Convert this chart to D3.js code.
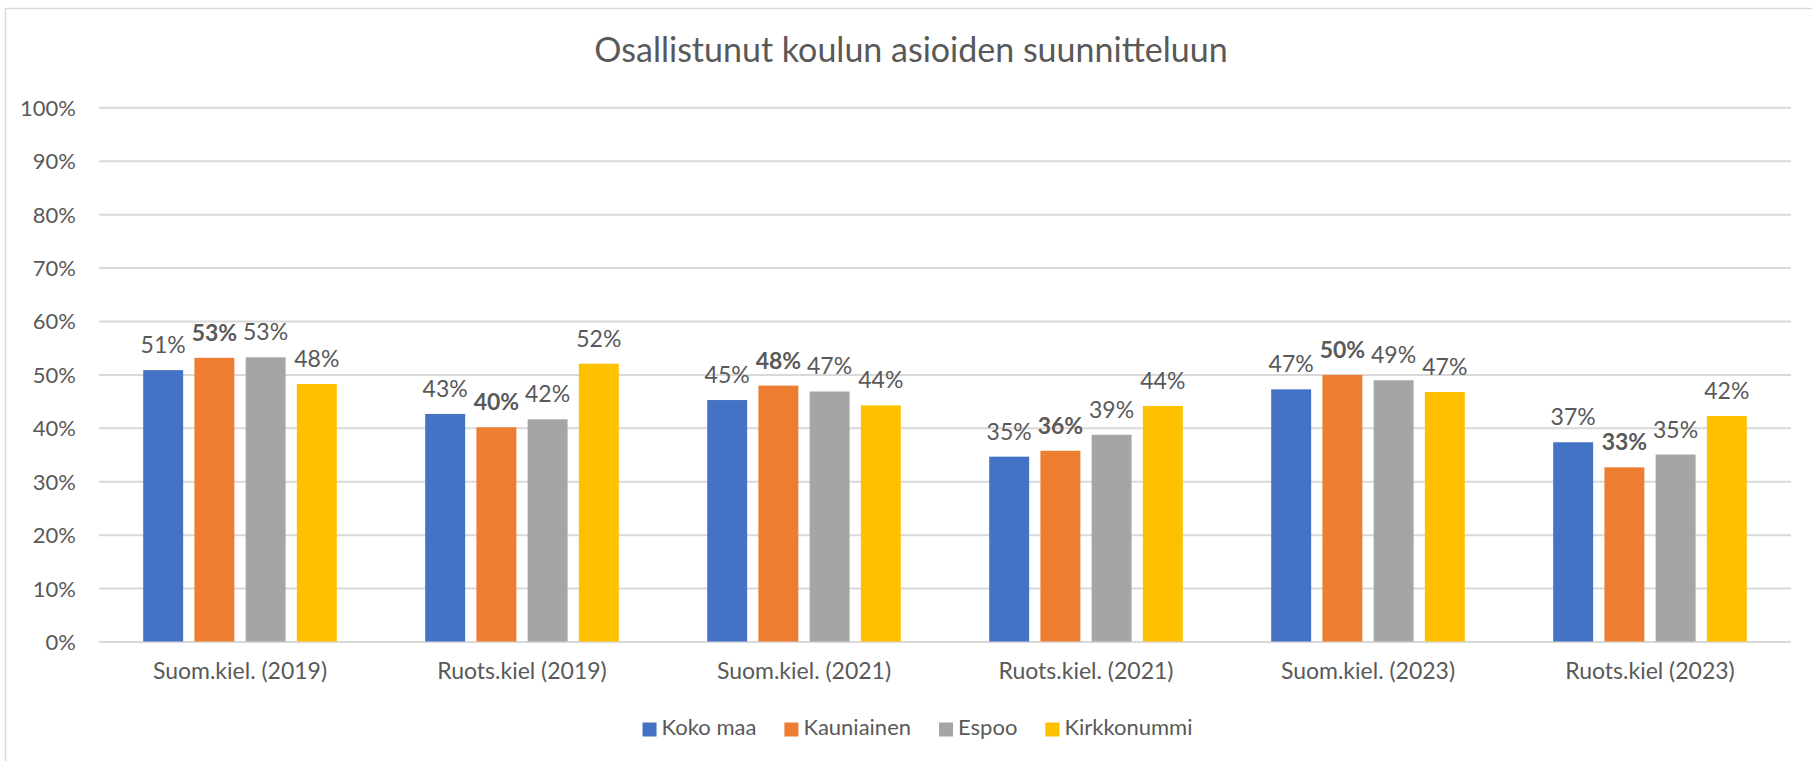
<!DOCTYPE html>
<html>
<head>
<meta charset="utf-8">
<script src="https://cdn.jsdelivr.net/npm/d3@7"></script>
<style>
  body { margin: 0; background: #fff; }
  svg text { font-family: Lato, "Open Sans", sans-serif; fill: #595959; }
</style>
</head>
<body>
<div id="chart"></div>
<script>
const categories = ['Suom.kiel. (2019)', 'Ruots.kiel (2019)', 'Suom.kiel. (2021)', 'Ruots.kiel. (2021)', 'Suom.kiel. (2023)', 'Ruots.kiel (2023)'];
const seriesNames = ['Koko maa', 'Kauniainen', 'Espoo', 'Kirkkonummi'];
const kokoMaa = [50.8, 42.6, 45.2, 34.6, 47.2, 37.3];
const kauniainen = [53.1, 40.1, 47.9, 35.7, 49.9, 32.6];
const espoo = [53.2, 41.6, 46.8, 38.7, 48.9, 35.0];
const kirkkonummi = [48.2, 52.0, 44.2, 44.1, 46.7, 42.2];
const yTicks = [0, 10, 20, 30, 40, 50, 60, 70, 80, 90, 100];
const colors = ['#4472C4', '#ED7D31', '#A5A5A5', '#FFC000'];
const title = 'Osallistunut koulun asioiden suunnitteluun';

const width = 1812;
const height = 761;
const plot = {left: 99, right: 1791, top: 107.3, bottom: 641.5};

const allSeries = [kokoMaa, kauniainen, espoo, kirkkonummi];

const svg = d3.select('#chart')
    .append('svg')
        .attr('width', width)
        .attr('height', height);

// chart frame (only left and top edge are inside the picture)
svg.append('rect')
    .attr('x', 5.5)
    .attr('y', 8.5)
    .attr('width', width)
    .attr('height', height)
    .attr('fill', 'none')
    .attr('stroke', '#d9d9d9')
    .attr('stroke-width', 1.5);

const x0 = d3.scaleBand()
    .domain(categories)
    .range([plot.left, plot.right]);

const groupWidth = 193.6;
const x1 = d3.scaleBand()
    .domain(seriesNames)
    .range([0, groupWidth])
    .paddingInner(0.22);

const y = d3.scaleLinear()
    .domain([0, 100])
    .range([plot.bottom, plot.top]);

// y axis + gridlines
const yAxis = svg.append('g')
    .attr('transform', `translate(${plot.left},0)`)
    .call(d3.axisLeft(y)
        .tickValues(yTicks)
        .tickSize(-(plot.right - plot.left))
        .tickPadding(23)
        .tickFormat(d => d + '%'));
yAxis.select('.domain').remove();
yAxis.selectAll('.tick line')
    .attr('stroke', '#d9d9d9')
    .attr('stroke-width', 2);
yAxis.selectAll('.tick text')
    .attr('font-size', 22)
    .attr('dy', '0.36em');

// category axis
const xAxis = svg.append('g')
    .attr('transform', `translate(0,${plot.bottom})`)
    .call(d3.axisBottom(x0).tickSize(0));
xAxis.select('.domain').remove();
xAxis.selectAll('.tick text')
    .attr('font-size', 23)
    .attr('y', 37.5)
    .attr('dy', 0);

// bars
const barData = [];
categories.forEach((c, i) => {
    seriesNames.forEach((s, j) => {
        barData.push({cat: c, name: s, value: allSeries[j][i], color: colors[j], bold: j === 1});
    });
});

const offset = (x0.bandwidth() - groupWidth) / 2;

svg.append('g')
    .selectAll('rect')
    .data(barData)
    .enter()
    .append('rect')
        .attr('x', d => x0(d.cat) + offset + x1(d.name))
        .attr('y', d => y(d.value))
        .attr('width', x1.bandwidth())
        .attr('height', d => y(0) - y(d.value))
        .attr('fill', d => d.color);

svg.append('g')
    .selectAll('text')
    .data(barData)
    .enter()
    .append('text')
        .attr('x', d => x0(d.cat) + offset + x1(d.name) + x1.bandwidth() / 2)
        .attr('y', d => y(d.value) - 17)
        .attr('text-anchor', 'middle')
        .attr('font-size', 23)
        .attr('font-weight', d => d.bold ? 'bold' : 'normal')
        .text(d => Math.round(d.value) + '%');

// title
svg.append('text')
    .attr('x', 911)
    .attr('y', 62)
    .attr('text-anchor', 'middle')
    .attr('font-size', 34)
    .text(title);

// legend
const legend = svg.append('g');
let lx = 0;
seriesNames.forEach((s, i) => {
    const item = legend.append('g').attr('transform', `translate(${lx},0)`);
    item.append('rect')
        .attr('x', 0)
        .attr('y', -12.5)
        .attr('width', 14)
        .attr('height', 14)
        .attr('fill', colors[i]);
    const t = item.append('text')
        .attr('x', 19)
        .attr('y', 0)
        .attr('font-size', 22)
        .text(s);
    lx += 19 + t.node().getComputedTextLength() + 28;
});
const legendWidth = lx - 28;
legend.attr('transform', `translate(${917.5 - legendWidth / 2},735)`);
</script>
</body>
</html>
